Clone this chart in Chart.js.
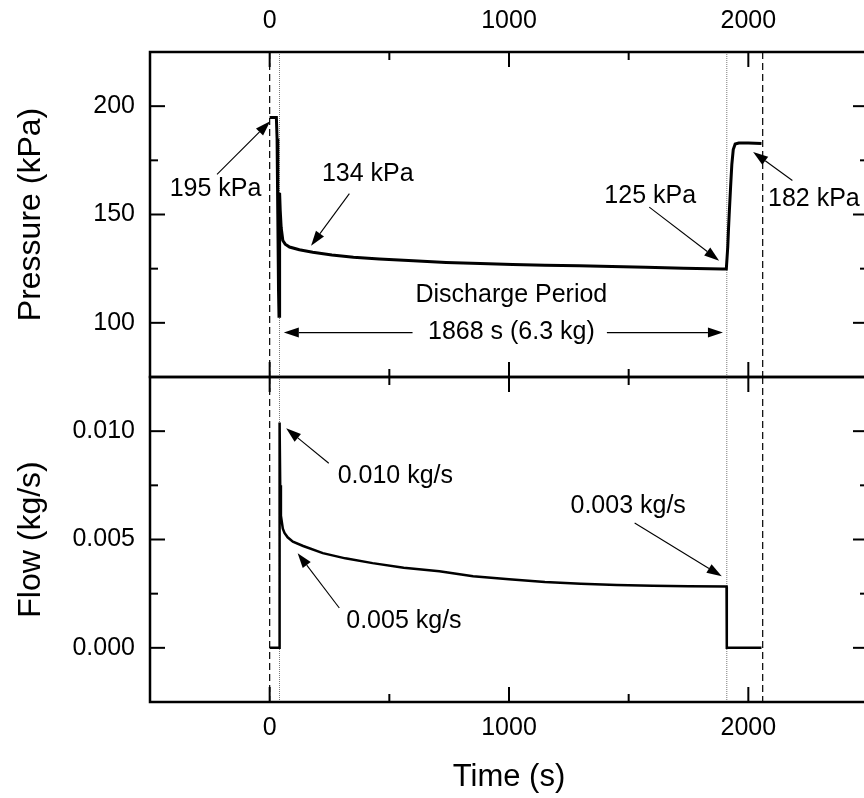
<!DOCTYPE html>
<html lang="en">
<head>
    <meta charset="UTF-8">
    <title>Pressure and flow - discharge test</title>
    <script src="https://cdn.jsdelivr.net/npm/chart.js"></script>
    <style>
        body {
            margin: 0;
            background: #fff;
            width: 864px;
            height: 798px;
            overflow: hidden;
            position: relative;
        }
        canvas { position: absolute; left: 0; }
        #pressureChart { top: 0; }
        #flowChart { top: 367px; }
    </style>
</head>
<body>

<canvas id="pressureChart" width="880" height="388"></canvas>
<canvas id="flowChart" width="880" height="431"></canvas>

<script>
    // axis ticks
    const timeTicks = [0, 1000, 2000];
    const timeMinor = [500, 1500];
    const pressureTicks = [100, 150, 200];
    const pressureMinor = [125, 175];
    const flowTicks = [0, 0.005, 0.010];
    const flowMinor = [0.0025, 0.0075];

    // pressure trace (s, kPa)
    const pTime = [0, 28, 31, 34, 37, 39, 41, 42, 44, 48, 55, 65, 83, 124, 180, 260, 350, 458, 600, 737,
        880, 1015, 1150, 1293, 1430, 1572, 1730, 1892, 1908, 1914, 1917, 1920, 1926, 1931, 1937, 1945, 1960, 2000, 2055];
    const pValue = [194.8, 194.8, 185, 150, 115, 103, 120, 160, 152, 144, 138, 136.3, 135, 133.7, 132.6, 131.3, 130.3, 129.5, 128.6, 127.9,
        127.4, 126.9, 126.6, 126.4, 126, 125.6, 125.2, 124.9, 124.9, 135, 143, 150, 163, 173, 180, 182.5, 183, 183, 182.8];

    // flow trace (s, kg/s)
    const fTime = [0, 41, 41.5, 44, 47, 55, 62, 75, 97, 140, 222, 316, 430, 560, 709, 850, 1000, 1150, 1300, 1450,
        1600, 1750, 1909, 1910, 2055];
    const fValue = [0, 0, 0.0104, 0.0075, 0.0061, 0.0055, 0.0053, 0.0051, 0.0049, 0.0047, 0.00437, 0.00413, 0.00391, 0.0037, 0.00353, 0.0033, 0.00316, 0.00304, 0.00296, 0.0029,
        0.00286, 0.00284, 0.00283, 0, 0];

    // vertical markers (s)
    const valveLines = [0, 2060];
    const periodLines = [41, 1910];

    // notes: [text, time, value]
    const pNotes = [
        ['195 kPa', -226, 161.6],
        ['134 kPa', 410, 168.5],
        ['125 kPa', 1590, 158.6],
        ['182 kPa', 2274, 157],
        ['Discharge Period', 1010, 113],
        ['1868 s (6.3 kg)', 1010, 95.5]
    ];
    // arrows: [fromTime, fromValue, toTime, toValue]
    const pArrows = [
        [-220, 168.5, 2, 193],
        [333, 159.6, 173, 135.6],
        [1586, 153.4, 1878, 128.7],
        [2184, 165.7, 2020, 178.9],
        [597, 95.5, 59, 95.5],
        [1409, 95.5, 1894, 95.5]
    ];
    const fNotes = [
        ['0.010 kg/s', 525, 0.00794],
        ['0.005 kg/s', 561, 0.00125],
        ['0.003 kg/s', 1498, 0.00655]
    ];
    const fArrows = [
        [247, 0.00852, 69, 0.01013],
        [291, 0.00184, 117, 0.00437],
        [1525, 0.00576, 1889, 0.0033]
    ];

    const FONT = 'Arial, "Liberation Sans", sans-serif';
    Chart.defaults.font.family = FONT;
    Chart.defaults.color = '#000';

    function seg(ctx, x0, y0, x1, y1) {
        ctx.beginPath();
        ctx.moveTo(x0, y0);
        ctx.lineTo(x1, y1);
        ctx.stroke();
    }

    function arrow(ctx, x0, y0, x1, y1) {
        const ang = Math.atan2(y1 - y0, x1 - x0);
        const len = 15, half = 5;
        const bx = x1 - len * Math.cos(ang), by = y1 - len * Math.sin(ang);
        seg(ctx, x0, y0, bx, by);
        ctx.beginPath();
        ctx.moveTo(x1, y1);
        ctx.lineTo(bx + half * Math.sin(ang), by - half * Math.cos(ang));
        ctx.lineTo(bx - half * Math.sin(ang), by + half * Math.cos(ang));
        ctx.closePath();
        ctx.fill();
    }

    // 框線、內向刻度、參考線與標註
    const decor = {
        id: 'decor',
        beforeDatasetsDraw(chart) {
            const {ctx, chartArea: a, scales: {x}} = chart;
            ctx.save();
            ctx.strokeStyle = '#000';
            ctx.lineWidth = 1.2;
            ctx.setLineDash([7, 4]);
            valveLines.forEach(t => {
                const px = x.getPixelForValue(t);
                seg(ctx, px, a.top, px, a.bottom);
            });
            ctx.strokeStyle = '#777';
            ctx.lineWidth = 1;
            ctx.setLineDash([1, 1]);
            periodLines.forEach(t => {
                const px = x.getPixelForValue(t);
                seg(ctx, px, a.top, px, a.bottom);
            });
            ctx.restore();
        },
        afterDatasetsDraw(chart, args, opts) {
            const {ctx, chartArea: a, scales: {x, y}} = chart;
            ctx.save();
            ctx.strokeStyle = '#000';
            ctx.fillStyle = '#000';
            ctx.lineWidth = 2.5;
            ctx.strokeRect(a.left, a.top, a.width, a.height);

            ctx.lineWidth = 2;
            const xt = (vals, len) => vals.forEach(v => {
                const px = x.getPixelForValue(v);
                seg(ctx, px, a.top, px, a.top + len);
                seg(ctx, px, a.bottom, px, a.bottom - len);
            });
            const yt = (vals, len) => vals.forEach(v => {
                const py = y.getPixelForValue(v);
                seg(ctx, a.left, py, a.left + len, py);
                seg(ctx, a.right, py, a.right - len, py);
            });
            xt(timeTicks, 15);
            xt(timeMinor, 8);
            yt(opts.major, 15);
            yt(opts.minor, 8);

            ctx.lineWidth = 1.1;
            opts.arrows.forEach(([t0, v0, t1, v1]) => {
                arrow(ctx, x.getPixelForValue(t0), y.getPixelForValue(v0),
                    x.getPixelForValue(t1), y.getPixelForValue(v1));
            });

            ctx.font = '25px ' + FONT;
            ctx.textAlign = 'center';
            ctx.textBaseline = 'middle';
            opts.notes.forEach(([txt, t, v]) => {
                ctx.fillText(txt, x.getPixelForValue(t), y.getPixelForValue(v));
            });
            ctx.restore();
        }
    };

    function toPoints(xs, ys) {
        return xs.map((t, i) => ({x: t, y: ys[i]}));
    }

    function timeAxis(position, height, pad, title) {
        return {
            type: 'linear',
            position: position,
            min: -500,
            max: 2500,
            grid: {display: false, drawTicks: false},
            border: {display: false},
            ticks: {
                font: {size: 25},
                color: '#000',
                padding: pad,
                maxRotation: 0,
                autoSkip: false,
                callback: v => String(v)
            },
            title: title,
            afterBuildTicks: s => { s.ticks = timeTicks.map(v => ({value: v})); },
            afterFit: s => { s.height = height; s.paddingLeft = 0; s.paddingRight = 0; }
        };
    }

    function valueAxis(min, max, ticks, fmt, text) {
        return {
            type: 'linear',
            position: 'left',
            min: min,
            max: max,
            grid: {display: false, drawTicks: false},
            border: {display: false},
            ticks: {
                font: {size: 25},
                color: '#000',
                padding: 15,
                autoSkip: false,
                callback: fmt
            },
            title: {
                display: true,
                text: text,
                font: {size: 32},
                color: '#000',
                padding: {top: 12, bottom: 0}
            },
            afterBuildTicks: s => { s.ticks = ticks.map(v => ({value: v})); },
            afterFit: s => { s.width = 150; s.paddingTop = 0; s.paddingBottom = 0; }
        };
    }

    // 上圖：壓力
    new Chart(document.getElementById('pressureChart'), {
        type: 'line',
        data: {
            datasets: [{
                data: toPoints(pTime, pValue),
                borderColor: '#000',
                borderWidth: 3,
                pointRadius: 0,
                tension: 0
            }]
        },
        options: {
            responsive: false,
            animation: false,
            devicePixelRatio: 1,
            layout: {padding: {left: 0, right: 12, top: 0, bottom: 11}},
            plugins: {
                legend: {display: false},
                tooltip: {enabled: false},
                decor: {major: pressureTicks, minor: pressureMinor, notes: pNotes, arrows: pArrows}
            },
            scales: {
                x: timeAxis('top', 52, 16, {display: false}),
                y: valueAxis(75, 225, pressureTicks, v => v.toFixed(0), 'Pressure (kPa)')
            }
        },
        plugins: [decor]
    });

    // 下圖：流量
    new Chart(document.getElementById('flowChart'), {
        type: 'line',
        data: {
            datasets: [{
                data: toPoints(fTime, fValue),
                borderColor: '#000',
                borderWidth: 2.5,
                pointRadius: 0,
                tension: 0
            }]
        },
        options: {
            responsive: false,
            animation: false,
            devicePixelRatio: 1,
            layout: {padding: {left: 0, right: 12, top: 10, bottom: 0}},
            plugins: {
                legend: {display: false},
                tooltip: {enabled: false},
                decor: {major: flowTicks, minor: flowMinor, notes: fNotes, arrows: fArrows}
            },
            scales: {
                x: timeAxis('bottom', 96, 11, {
                    display: true,
                    text: 'Time (s)',
                    font: {size: 31},
                    color: '#000',
                    padding: {top: 0, bottom: 2}
                }),
                y: valueAxis(-0.0025, 0.0125, flowTicks, v => v.toFixed(3), 'Flow (kg/s)')
            }
        },
        plugins: [decor]
    });
</script>

</body>
</html>
